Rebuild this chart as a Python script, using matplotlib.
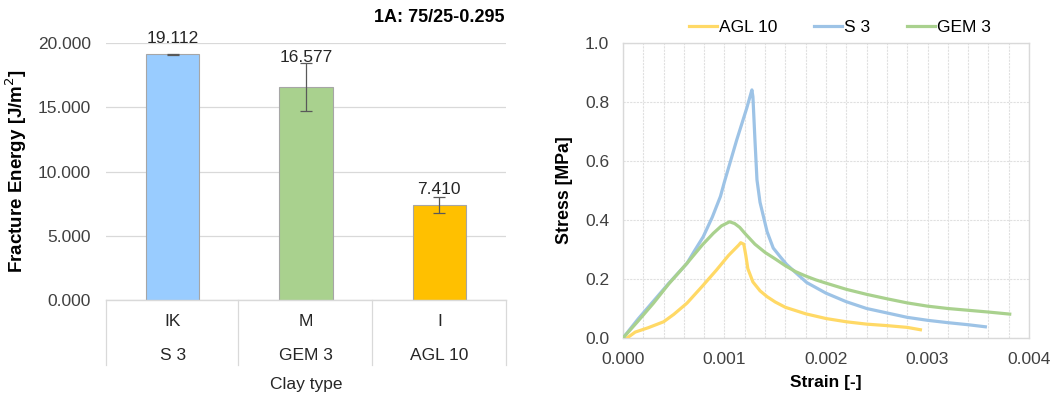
import matplotlib
matplotlib.use("Agg")
import matplotlib.pyplot as plt
import numpy as np

plt.rcParams['font.family'] = ['Liberation Sans', 'DejaVu Sans']

# ---- Bar chart data ----
clay_codes = ["IK", "M", "I"]
clay_names = ["S 3", "GEM 3", "AGL 10"]
fracture_energy = [19.112, 16.577, 7.410]
fracture_err = [0.05, 1.83, 0.62]
bar_colors = ["#99CCFF", "#A9D18E", "#FFC000"]
yticks_left = [0, 5, 10, 15, 20]

# ---- Stress-strain data ----
agl_strain = [0.00004, 0.00012, 0.00025, 0.0004, 0.0005, 0.00063, 0.00078, 0.00092, 0.00104,
              0.00114, 0.00116, 0.00119, 0.00121, 0.00123, 0.00128, 0.00135, 0.00142, 0.0015,
              0.0016, 0.0018, 0.002, 0.0022, 0.0024, 0.0026, 0.0028, 0.00293]
agl_stress = [0.0, 0.02, 0.035, 0.055, 0.08, 0.118, 0.175, 0.23, 0.28,
              0.315, 0.323, 0.318, 0.28, 0.235, 0.19, 0.16, 0.14, 0.122,
              0.104, 0.082, 0.066, 0.055, 0.047, 0.042, 0.036, 0.028]

s3_strain = [0.0, 0.00015, 0.0003, 0.00045, 0.00063, 0.0007, 0.00079, 0.00088, 0.00096, 0.001,
             0.00112, 0.00122, 0.00127, 0.00128, 0.0013, 0.00132, 0.00135, 0.00142, 0.00148,
             0.00155, 0.00161, 0.0017, 0.00181, 0.002, 0.0022, 0.0024, 0.0026, 0.0028,
             0.003, 0.0032, 0.0034, 0.00357]
s3_stress = [0.0, 0.065, 0.125, 0.185, 0.253, 0.293, 0.343, 0.41, 0.48, 0.53,
             0.671, 0.78, 0.841, 0.818, 0.671, 0.536, 0.46, 0.36, 0.305,
             0.275, 0.25, 0.222, 0.188, 0.152, 0.123, 0.1, 0.085, 0.07,
             0.06, 0.052, 0.045, 0.038]

gem_strain = [0.0, 0.00015, 0.0003, 0.00045, 0.00063, 0.00078, 0.00089, 0.00097, 0.00105,
              0.0011, 0.00115, 0.0012, 0.0013, 0.0014, 0.0015, 0.0016, 0.0017, 0.0018,
              0.0019, 0.002, 0.0022, 0.0024, 0.0026, 0.0028, 0.003, 0.0032, 0.0034, 0.0036,
              0.00381]
gem_stress = [0.0, 0.058, 0.118, 0.183, 0.253, 0.315, 0.355, 0.38, 0.394,
              0.388, 0.375, 0.355, 0.318, 0.29, 0.268, 0.245, 0.225, 0.21,
              0.197, 0.186, 0.165, 0.148, 0.133, 0.119, 0.108, 0.1, 0.094, 0.088,
              0.081]

fig = plt.figure(figsize=(10.53, 3.94), dpi=100)
W, H = 1053.0, 394.0
FS = 12.5

# ================= Left: bar chart =================
axL = fig.add_axes([106 / W, 1 - 300 / H, 400 / W, 257 / H])
x = np.arange(len(clay_codes))
axL.bar(x, fracture_energy, width=0.4, color=bar_colors, edgecolor="#A6A6A6", linewidth=0.8, zorder=3)
axL.errorbar(x, fracture_energy, yerr=fracture_err, fmt='none', ecolor="#595959",
             elinewidth=0.9, capsize=4, capthick=0.9, zorder=4)
axL.set_xlim(-0.5, 2.5)
axL.set_ylim(0, 20)
axL.set_yticks(yticks_left)
axL.set_yticklabels([f"{v:.3f}" for v in yticks_left], fontsize=FS, color="#404040")
axL.yaxis.grid(True, color="#D9D9D9", linewidth=0.9, zorder=0)
axL.set_axisbelow(True)
for s in ["left", "right", "top", "bottom"]:
    axL.spines[s].set_visible(False)
axL.tick_params(axis='y', length=0, pad=11)
axL.tick_params(axis='x', length=0)
axL.set_xticks([])
axL.set_ylabel("Fracture Energy [J/m$^2$]", fontsize=13.5, fontweight="bold")
axL.yaxis.set_label_coords((29 - 106) / 400, 0.5)

label_y = [19.75, 18.25, 8.05]
for xi, v, ly in zip(x, fracture_energy, label_y):
    axL.text(xi, ly, f"{v:.3f}", ha="center", va="bottom", fontsize=FS, color="#262626", zorder=5)

# category box below
box_bot = 1 - 365 / H
for xp in [106, 238, 372, 506]:
    fig.add_artist(plt.Line2D([xp / W, xp / W], [1 - 300 / H, box_bot], color="#D9D9D9", linewidth=0.9))
fig.add_artist(plt.Line2D([106 / W, 506 / W], [1 - 300 / H, 1 - 300 / H], color="#D9D9D9", linewidth=1.0))
for xi, code, name in zip(x, clay_codes, clay_names):
    xf = (106 + (xi + 0.5) * 400 / 3) / W
    fig.text(xf, 1 - 322 / H, code, ha="center", va="center", fontsize=FS, color="#262626")
    fig.text(xf, 1 - 355 / H, name, ha="center", va="center", fontsize=FS, color="#262626")
fig.text(306 / W, 1 - 384 / H, "Clay type", ha="center", va="center", fontsize=12.5, color="#262626")
fig.text(504 / W, 1 - 17 / H, "1A: 75/25-0.295", ha="right", va="center", fontsize=13, fontweight="bold")

# ================= Right: stress-strain =================
axR = fig.add_axes([623 / W, 1 - 338 / H, 406 / W, 295 / H])
axR.plot(agl_strain, agl_stress, color="#FFD966", linewidth=2.3, label="AGL 10", zorder=3,
         solid_joinstyle="round")
axR.plot(s3_strain, s3_stress, color="#9DC3E6", linewidth=2.3, label="S 3", zorder=3,
         solid_joinstyle="round")
axR.plot(gem_strain, gem_stress, color="#A9D18E", linewidth=2.3, label="GEM 3", zorder=4,
         solid_joinstyle="round")
axR.set_xlim(0, 0.004)
axR.set_ylim(0, 1.0)
axR.set_xticks([0, 0.001, 0.002, 0.003, 0.004])
axR.set_xticklabels(["0.000", "0.001", "0.002", "0.003", "0.004"], fontsize=FS, color="#404040")
axR.set_yticks([0, 0.2, 0.4, 0.6, 0.8, 1.0])
axR.set_yticklabels(["0.0", "0.2", "0.4", "0.6", "0.8", "1.0"], fontsize=FS, color="#404040")
axR.set_xticks(np.arange(0, 0.0040001, 0.0002), minor=True)
axR.xaxis.grid(True, which="both", color="#E0E0E0", linewidth=0.8, linestyle=(0, (2, 1)), zorder=0)
axR.yaxis.grid(True, which="major", color="#E0E0E0", linewidth=0.8, linestyle=(0, (2, 1)), zorder=0)
axR.tick_params(axis='y', which="both", length=0, pad=10)
axR.tick_params(axis='x', which="both", length=0, pad=10)
for s in axR.spines.values():
    s.set_color("#D9D9D9")
    s.set_linewidth(1.0)
axR.set_xlabel("Strain [-]", fontsize=12.5, fontweight="bold")
axR.xaxis.set_label_coords(0.5, -(375 - 338) / 295)
axR.set_ylabel("Stress [MPa]", fontsize=12.8, fontweight="bold")
axR.yaxis.set_label_coords((573 - 623) / 406, 0.5)
axR.legend(loc="center", bbox_to_anchor=((840 - 623) / 406, 1 + (43 - 27) / 295), ncol=3,
           frameon=False, fontsize=FS, handlelength=1.6, handletextpad=0.15, columnspacing=2.1,
           borderaxespad=0.0, borderpad=0.0)

fig.savefig("out.png", dpi=100)
